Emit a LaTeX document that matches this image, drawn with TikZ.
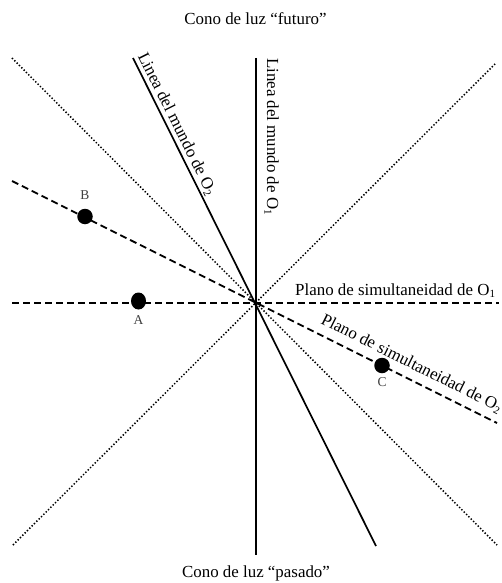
\documentclass[tikz,border=0pt]{standalone}
\usepackage{fontspec}
\setmainfont{Liberation Serif}
\usetikzlibrary{shapes.geometric}
\newcommand\lowsub[1]{\raisebox{-0.35ex}{\fontsize{11}{11}\selectfont #1}}
\begin{document}
\begin{tikzpicture}[x=1pt,y=-1pt,
  worldline/.style={line width=1.7pt, line cap=butt},
  coneline/.style={line width=1.5pt, dash pattern=on 1.4pt off 1.9pt},
  simline/.style={line width=1.8pt, dash pattern=on 7pt off 4pt},
  event/.style={fill=black, draw=none, inner sep=0pt},
  lbl/.style={font=\fontsize{16.9}{20}\selectfont, inner sep=0pt},
  evlbl/.style={font=\fontsize{13.5}{15}\selectfont, text=black!75, inner sep=0pt}]
\useasboundingbox (0,0) rectangle (501,583);
\fill[white] (0,0) rectangle (501,583);
\coordinate (O) at (256,303);
\coordinate (L1t) at (256,58);
\coordinate (L1b) at (256,555);
\coordinate (L2t) at (133,58);
\coordinate (L2b) at (376,546);
\coordinate (Ctl) at (12,58);
\coordinate (Cbr) at (497,545);
\coordinate (Cbl) at (13,545);
\coordinate (Ctr) at (495,64);
\coordinate (S1l) at (12,303);
\coordinate (S1r) at (499,303);
\coordinate (S2l) at (12,181);
\coordinate (S2r) at (497,423);
% light cone
\draw[coneline] (Ctl) -- (Cbr);
\draw[coneline] (Cbl) -- (Ctr);
% planes of simultaneity
\draw[simline] (S1l) -- (S1r);
\draw[simline] (S2l) -- (S2r);
% world lines
\draw[worldline] (L1t) -- (L1b);
\draw[worldline] (L2t) -- (L2b);
% events
\node[event, ellipse, minimum width=15pt, minimum height=17pt] (A) at (138.5,301) {};
\node[event, circle, minimum size=15.5pt] (B) at (85,216.5) {};
\node[event, circle, minimum size=15.5pt] (C) at (382,365.5) {};
\node[evlbl] (Al) at (138.5,320) {A};
\node[evlbl] (Bl) at (85,195) {B};
\node[evlbl] (Cl) at (382,382) {C};
% texts
\node[lbl, anchor=base] (fut) at (255.5,25) {Cono de luz “futuro”};
\node[lbl, anchor=base] (pas) at (256,577) {Cono de luz “pasado”};
\node[lbl, anchor=base west] (p1) at (295,295) {Plano de simultaneidad de O\lowsub{1}};
\node[lbl, anchor=base west, rotate=-26.57] (p2) at (320,323) {Plano de simultaneidad de O\lowsub{2}};
\node[lbl, anchor=base west, rotate=-90] (w1) at (267,58) {Linea del mundo de O\lowsub{1}};
\node[lbl, anchor=base west, rotate=-63.43] (w2) at (137.5,56) {Linea del mundo de O\lowsub{2}};
\end{tikzpicture}
\end{document}
